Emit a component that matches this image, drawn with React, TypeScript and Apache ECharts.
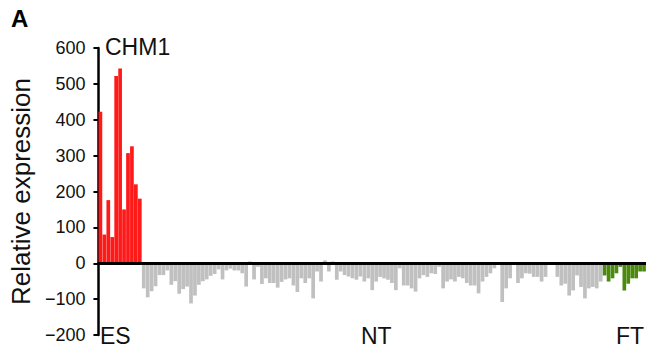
import React, { useEffect, useRef } from "react";
import * as echarts from "echarts";

const esValues = [422, 80, 176, 73, 522, 543, 150, 307, 326, 220, 180];
const ntValues = [
  -70, -95, -78, -64, -33, -33, -20, -60, -50, -85, -72, -65, -112, -90, -60, -50, -45, -35, -30, -17,
  -45, -20, -15, -20, -20, -28, -65, 5, -45, -10,
  -58, -42, -55, -55, -68, -52, -45, -42, -62, -80, -42, -55, -42, -98, -23, -51, 8, -23, 5, -46,
  -23, -33, -37, -42, -46, -37, -51, -42, -75, -51,
  -38, -42, -46, -55, -75, -14, -62, -62, -70, -79, -42, -33, -38, -28, -30, -10, -70, -51, -45, -51,
  -38, -42, -55, -62, -62, -84, -51, -38, -28, -14, -5,
  -108, -70, -42, -3, -55, -42, -28, -29, -38, -38, -51, -38, -3, -3, -38, -62, -57, -90, -76, -34,
  -66, -98, -70, -66, -70, -51,
];
const ftValues = [-34, -51, -42, -28, -10, -76, -57, -42, -42, -23, -23];
const groupLabels = ["ES", "NT", "FT"];
const panelLabel = "A";
const geneName = "CHM1";
const yTitle = "Relative expression";
const yMin = -200;
const yMax = 600;
const yStep = 100;

const FONT = "Liberation Sans, Arial, sans-serif";
const RED = "#ff1a1a";
const GRAY = "#c0c0c0";
const GREEN = "#4a8a0c";

export default function App() {
  const ref = useRef<HTMLDivElement>(null);
  useEffect(() => {
    if (!ref.current) return;
    const chart = echarts.init(ref.current, null, { renderer: "svg" });
    const data = [
      ...esValues.map((v) => ({ value: v, itemStyle: { color: RED } })),
      ...ntValues.map((v) => ({ value: v, itemStyle: { color: GRAY } })),
      ...ftValues.map((v) => ({ value: v, itemStyle: { color: GREEN } })),
    ];
    const categories = data.map((_, i) => "S" + (i + 1));
    const txt = (text: string, size: number, bold = false) => ({
      text,
      fontSize: size,
      fontWeight: bold ? "bold" : "normal",
      fontFamily: FONT,
      fill: bold ? "#000" : "#111",
    });
    chart.setOption({
      animation: false,
      grid: { left: 97, right: 0, top: 48, bottom: 21 },
      xAxis: {
        type: "category",
        data: categories,
        axisLine: { onZero: true, lineStyle: { color: "#000", width: 3 } },
        axisTick: { show: false },
        axisLabel: { show: false },
        splitLine: { show: false },
        z: 5,
      },
      yAxis: {
        type: "value",
        min: yMin,
        max: yMax,
        interval: yStep,
        splitLine: { show: false },
        axisLine: { show: true, lineStyle: { color: "#000", width: 2.5 } },
        axisTick: { show: true, length: 5, lineStyle: { color: "#000", width: 2 } },
        axisLabel: {
          fontSize: 18,
          color: "#111",
          margin: 13,
          fontFamily: FONT,
          formatter: (v: number) => String(v).replace("-", "\u2212"),
        },
        name: yTitle,
        nameLocation: "middle",
        nameGap: 52,
        nameTextStyle: { fontSize: 26, color: "#111", fontFamily: FONT },
      },
      series: [
        {
          type: "bar",
          data,
          barCategoryGap: "6%",
        },
      ],
      graphic: [
        { type: "text", left: 11, top: 6, style: txt(panelLabel, 24, true) },
        { type: "text", left: 105, top: 35, style: txt(geneName, 23) },
        { type: "text", left: 100, top: 324, style: txt(groupLabels[0], 23) },
        { type: "text", left: 361, top: 324, style: txt(groupLabels[1], 23) },
        { type: "text", right: 2, top: 324, style: txt(groupLabels[2], 23) },
      ],
    });
    return () => chart.dispose();
  }, []);
  return (
    <div
      ref={ref}
      style={{ position: "absolute", left: 0, top: 0, width: 646, height: 356, background: "#fff" }}
    />
  );
}
